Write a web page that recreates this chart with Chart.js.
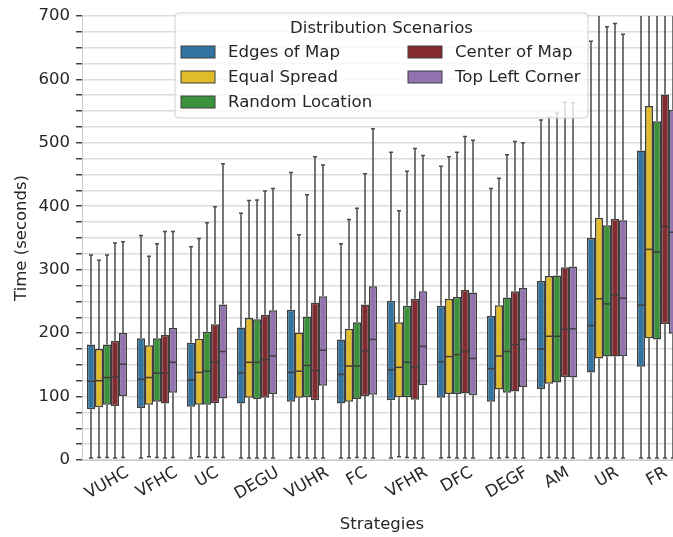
<!DOCTYPE html>
<html lang="en">
<head>
<meta charset="UTF-8">
<title>Strategies box plot</title>
<script src="https://cdn.jsdelivr.net/npm/chart.js"></script>
<style>
    body { margin: 0; padding: 0; background: #fff; overflow: hidden; }
    .wrap { width: 673px; height: 537px; overflow: hidden; }
</style>
</head>
<body>
<div class="wrap">
    <canvas id="chart" width="690" height="537"></canvas>
</div>
<script>
// categories and scenarios
const strategies = ['VUHC', 'VFHC', 'UC', 'DEGU', 'VUHR', 'FC', 'VFHR', 'DFC', 'DEGF', 'AM', 'UR', 'FR'];
const scenarios = ['Edges of Map', 'Equal Spread', 'Random Location', 'Center of Map', 'Top Left Corner'];
const colors = ['#3274a1', '#e1bc29', '#3a923a', '#842b30', '#9372b2'];

// box stats, one row per scenario (seconds)
const whiskLow = [
    [3, 3, 3, 3, 3, 3, 3, 3, 3, 3, 3, 3],
    [4, 5, 5, 3, 4, 3, 5, 4, 3, 4, 3, 3],
    [4, 4, 4, 3, 3, 4, 4, 3, 4, 3, 3, 3],
    [3, 3, 4, 3, 3, 3, 3, 3, 3, 3, 3, 3],
    [4, 4, 4, 3, 3, 3, 3, 3, 3, 3, 3, 3]
];
const q1 = [
    [80, 82, 84, 89, 92, 89, 94, 98, 92, 112, 138, 147],
    [83, 87, 87, 98, 98, 92, 99, 104, 111, 120, 160, 192],
    [87, 92, 87, 96, 99, 96, 99, 104, 106, 122, 163, 190],
    [85, 89, 90, 98, 94, 101, 95, 105, 108, 131, 163, 214],
    [101, 106, 97, 104, 117, 103, 118, 102, 115, 130, 164, 199]
];
const medians = [
    [124, 127, 126, 137, 138, 135, 142, 155, 144, 175, 212, 244],
    [125, 130, 138, 154, 140, 148, 146, 163, 164, 195, 254, 332],
    [130, 137, 140, 154, 149, 148, 154, 166, 171, 195, 246, 328],
    [131, 137, 154, 158, 141, 172, 146, 171, 182, 206, 260, 368],
    [151, 154, 171, 164, 173, 190, 179, 160, 190, 207, 255, 359]
];
const q3 = [
    [182, 192, 185, 209, 237, 190, 251, 243, 227, 282, 350, 488],
    [175, 181, 191, 224, 201, 207, 217, 254, 244, 290, 382, 558],
    [182, 192, 202, 222, 226, 217, 243, 257, 256, 291, 370, 534],
    [188, 197, 214, 229, 248, 245, 254, 268, 266, 304, 380, 576],
    [200, 208, 245, 236, 258, 274, 266, 264, 271, 305, 378, 552]
];
const whiskHigh = [
    [323, 354, 336, 389, 453, 341, 485, 463, 428, 536, 660, 760],
    [315, 321, 349, 409, 355, 379, 393, 478, 444, 541, 730, 820],
    [323, 341, 374, 410, 418, 397, 455, 485, 481, 547, 683, 800],
    [342, 360, 399, 424, 478, 451, 491, 510, 502, 564, 688, 850],
    [344, 360, 467, 428, 465, 522, 480, 504, 500, 563, 671, 840]
];

const FONT = 'DejaVu Sans';
const TEXT = '#262626';
const EDGE = '#3f3f3f';

// whiskers, medians, rotated labels and the legend box
const boxPlugin = {
    id: 'boxes',
    beforeDatasetsDraw(chart) {
        const ctx = chart.ctx;
        const y = chart.scales.y;
        const area = chart.chartArea;
        ctx.save();
        ctx.beginPath();
        ctx.rect(area.left, area.top, area.right - area.left, area.bottom - area.top + 2);
        ctx.clip();
        ctx.strokeStyle = '#4a4a4a';
        ctx.lineWidth = 1.5;
        scenarios.forEach((s, i) => {
            chart.getDatasetMeta(i).data.forEach((bar, j) => {
                const cap = bar.width / 4;
                const lo = y.getPixelForValue(whiskLow[i][j]);
                const hi = y.getPixelForValue(whiskHigh[i][j]);
                ctx.beginPath();
                ctx.moveTo(bar.x, y.getPixelForValue(q3[i][j]));
                ctx.lineTo(bar.x, hi);
                ctx.moveTo(bar.x, y.getPixelForValue(q1[i][j]));
                ctx.lineTo(bar.x, lo);
                ctx.moveTo(bar.x - cap, hi);
                ctx.lineTo(bar.x + cap, hi);
                ctx.moveTo(bar.x - cap, lo);
                ctx.lineTo(bar.x + cap, lo);
                ctx.stroke();
            });
        });
        ctx.restore();
    },
    afterDatasetsDraw(chart) {
        const ctx = chart.ctx;
        const y = chart.scales.y;
        ctx.save();
        ctx.strokeStyle = EDGE;
        ctx.lineWidth = 1.5;
        scenarios.forEach((s, i) => {
            chart.getDatasetMeta(i).data.forEach((bar, j) => {
                const m = y.getPixelForValue(medians[i][j]);
                ctx.beginPath();
                ctx.moveTo(bar.x - bar.width / 2, m);
                ctx.lineTo(bar.x + bar.width / 2, m);
                ctx.stroke();
            });
        });
        ctx.restore();
    },
    afterDraw(chart) {
        const ctx = chart.ctx;
        const x = chart.scales.x;
        const bottom = chart.chartArea.bottom;

        // category labels, rotated 30 degrees round their centre
        ctx.save();
        ctx.font = '16.5px "' + FONT + '"';
        ctx.fillStyle = TEXT;
        ctx.textAlign = 'center';
        ctx.textBaseline = 'middle';
        strategies.forEach((label, i) => {
            const w = ctx.measureText(label).width;
            const h = w * Math.sin(Math.PI / 6) + 15 * Math.cos(Math.PI / 6);
            ctx.save();
            ctx.translate(x.getPixelForValue(i), bottom + 5 + h / 2);
            ctx.rotate(-Math.PI / 6);
            ctx.fillText(label, 0, 0);
            ctx.restore();
        });
        ctx.restore();

        // legend
        const lx = 175, ly = 13, lw = 413, lh = 105;
        ctx.save();
        ctx.beginPath();
        ctx.roundRect(lx, ly, lw, lh, 4);
        ctx.fillStyle = 'rgba(255,255,255,0.8)';
        ctx.fill();
        ctx.strokeStyle = '#d0d0d0';
        ctx.lineWidth = 1;
        ctx.stroke();
        ctx.font = '16.6px "' + FONT + '"';
        ctx.fillStyle = TEXT;
        ctx.textAlign = 'center';
        ctx.textBaseline = 'middle';
        ctx.fillText('Distribution Scenarios', lx + lw / 2, ly + 16);
        ctx.textAlign = 'left';
        scenarios.forEach((name, i) => {
            const col = i < 3 ? 0 : 1;
            const row = i < 3 ? i : i - 3;
            const sx = col === 0 ? 181 : 408;
            const sy = 52 + row * 25;
            ctx.fillStyle = colors[i];
            ctx.fillRect(sx, sy - 6, 34, 12);
            ctx.strokeStyle = EDGE;
            ctx.strokeRect(sx, sy - 6, 34, 12);
            ctx.fillStyle = TEXT;
            ctx.fillText(name, sx + 47, sy + 1);
        });
        ctx.restore();
    }
};

const datasets = scenarios.map((name, i) => ({
    label: name,
    data: strategies.map((s, j) => [q1[i][j], q3[i][j]]),
    backgroundColor: colors[i],
    borderColor: EDGE,
    borderWidth: 1.5,
    borderSkipped: false,
    categoryPercentage: 0.8,
    barPercentage: 1.0
}));

new Chart(document.getElementById('chart'), {
    type: 'bar',
    data: { labels: strategies, datasets: datasets },
    options: {
        responsive: false,
        animation: false,
        layout: { padding: { left: 0, right: 8, top: 12, bottom: 0 } },
        plugins: {
            legend: { display: false },
            tooltip: { enabled: false }
        },
        scales: {
            x: {
                grid: { display: false },
                border: { color: '#cccccc' },
                ticks: { display: false },
                title: {
                    display: true,
                    text: 'Strategies',
                    color: TEXT,
                    font: { family: FONT, size: 16.5 },
                    padding: { top: 4, bottom: 2 }
                },
                afterFit(scale) { scale.height = 77; }
            },
            y: {
                min: 0,
                max: 700,
                grid: {
                    color: '#dcdcdc',
                    lineWidth: 1.5,
                    tickColor: '#444',
                    tickLength: 6
                },
                border: { color: '#cccccc' },
                ticks: {
                    stepSize: 25,
                    autoSkip: false,
                    color: TEXT,
                    font: { family: FONT, size: 16.5 },
                    padding: 6,
                    callback: v => (v % 100 === 0 ? v : '')
                },
                title: {
                    display: true,
                    text: 'Time (seconds)',
                    color: TEXT,
                    font: { family: FONT, size: 16.5 },
                    padding: { top: 12, bottom: 4 }
                },
                afterFit(scale) { scale.width = 82; }
            }
        }
    },
    plugins: [boxPlugin]
});
</script>
</body>
</html>
